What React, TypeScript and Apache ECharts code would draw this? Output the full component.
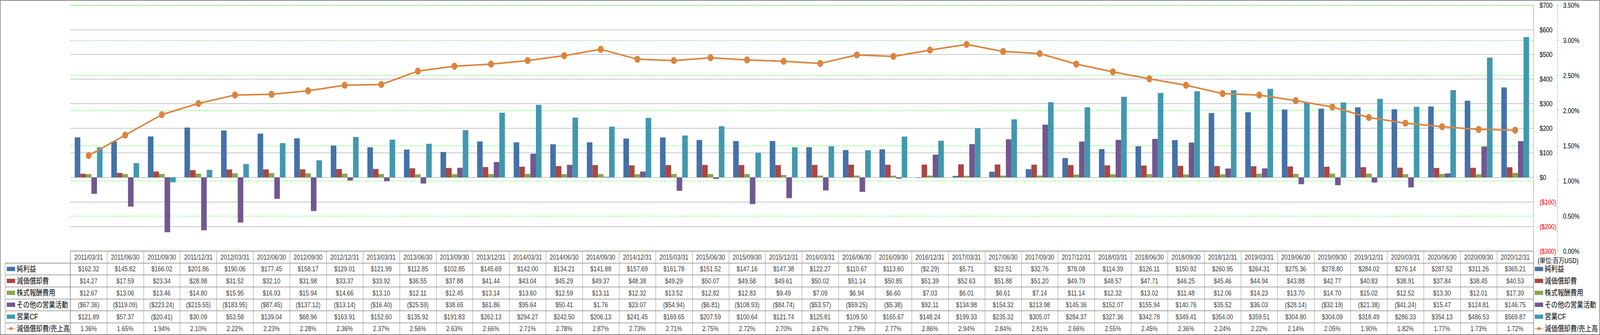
import React, { useEffect, useRef } from "react";
import * as echarts from "echarts";

const dates = [
  "2011/03/31", "2011/06/30", "2011/09/30", "2011/12/31", "2012/03/31", "2012/06/30", "2012/09/30", "2012/12/31",
  "2013/03/31", "2013/06/30", "2013/09/30", "2013/12/31", "2014/03/31", "2014/06/30", "2014/09/30", "2014/12/31",
  "2015/03/31", "2015/06/30", "2015/09/30", "2015/12/31", "2016/03/31", "2016/06/30", "2016/09/30", "2016/12/31",
  "2017/03/31", "2017/06/30", "2017/09/30", "2017/12/31", "2018/03/31", "2018/06/30", "2018/09/30", "2018/12/31",
  "2019/03/31", "2019/06/30", "2019/09/30", "2019/12/31", "2020/03/31", "2020/06/30", "2020/09/30", "2020/12/31",
];

const netIncome = [
  162.32, 145.82, 166.02, 201.86, 190.06, 177.45, 158.17, 129.01, 121.99, 112.85, 102.85, 145.69, 142.0, 134.21,
  141.88, 157.69, 161.78, 151.52, 147.16, 147.38, 122.27, 110.67, 113.6, -2.29, 5.71, 22.51, 32.76, 78.08, 114.39,
  126.11, 150.92, 260.95, 264.31, 275.36, 278.8, 284.02, 276.14, 287.52, 311.26, 365.21,
];
const depreciation = [
  14.27, 17.59, 23.34, 28.98, 31.52, 32.1, 31.98, 33.37, 33.92, 36.55, 37.88, 41.44, 43.04, 45.29, 49.37, 48.38,
  49.29, 50.07, 49.58, 49.61, 50.02, 51.14, 50.85, 51.39, 52.63, 51.88, 51.2, 49.79, 48.57, 47.71, 46.25, 45.46,
  44.94, 43.88, 42.77, 40.83, 38.91, 37.84, 38.45, 40.53,
];
const stockComp = [
  12.67, 13.06, 13.46, 14.8, 15.95, 16.93, 15.94, 14.66, 13.1, 12.11, 12.45, 13.14, 13.6, 12.59, 13.11, 12.32,
  13.52, 12.82, 12.83, 9.49, 7.09, 6.94, 6.6, 7.03, 6.01, 6.61, 7.14, 11.14, 12.32, 13.02, 11.48, 12.06, 14.23,
  13.7, 14.7, 15.02, 12.52, 13.3, 12.01, 17.39,
];
const otherOps = [
  -67.36, -119.09, -223.24, -215.55, -183.95, -87.45, -137.12, -13.14, -16.4, -25.59, 38.65, 61.86, 95.64, 50.41,
  1.76, 23.07, -54.94, -6.81, -108.93, -84.74, -53.57, -59.25, -5.38, 92.11, 134.98, 154.32, 213.98, 145.36, 152.07,
  155.94, 140.76, 35.52, 36.03, -28.14, -32.19, -21.38, -41.24, 15.47, 124.81, 146.75,
];
const operatingCF = [
  121.89, 57.37, -20.41, 30.09, 53.58, 139.04, 68.96, 163.91, 152.6, 135.92, 191.83, 262.13, 294.27, 242.5, 206.13,
  241.45, 169.65, 207.59, 100.64, 121.74, 125.81, 109.5, 165.67, 148.24, 199.33, 235.32, 305.07, 284.37, 327.36,
  342.78, 349.41, 354.0, 359.51, 304.8, 304.09, 318.49, 286.33, 354.13, 486.53, 569.87,
];
const depRatio = [
  1.36, 1.65, 1.94, 2.1, 2.22, 2.23, 2.28, 2.36, 2.37, 2.56, 2.63, 2.66, 2.71, 2.78, 2.87, 2.73, 2.71, 2.75, 2.72,
  2.7, 2.67, 2.79, 2.77, 2.86, 2.94, 2.84, 2.81, 2.66, 2.55, 2.45, 2.36, 2.24, 2.22, 2.14, 2.05, 1.9, 1.82, 1.77,
  1.73, 1.72,
];

const barNames = ["純利益", "減価償却費", "株式報酬費用", "その他の営業活動", "営業CF"];
const lineName = "減価償却費/売上高";
const unitLabel = "(単位:百万USD)";

const FONT = "'Liberation Sans', 'Noto Sans CJK JP', sans-serif";
const barColors = ["#4572A7", "#AA4643", "#89A54E", "#71588F", "#4198AF"];
const lineColor = "#DB843D";
const gridGray = "#888888";
const green = "#00FF00";

const DW = 4981;
const DH = 858;

const money = (v: number) => (v < 0 ? `($${(-v).toFixed(2)})` : `$${v.toFixed(2)}`);
const pct = (v: number) => `${v.toFixed(2)}%`;

export default function App() {
  const ref = useRef<HTMLDivElement>(null);
  const kx = typeof window !== "undefined" ? Math.min(1, window.innerWidth / DW) : 1;
  const ky = typeof window !== "undefined" ? Math.min(1, window.innerHeight / DH) : 1;

  useEffect(() => {
    const el = ref.current!;
    const chart = echarts.init(el, null, { renderer: "svg", width: DW, height: DH });
    const barData = [netIncome, depreciation, stockComp, otherOps, operatingCF];

    const tableRows = ["hdr", ...barNames, lineName];
    const cells: any[] = [];
    dates.forEach((d, i) => {
      cells.push([i, 0, d]);
      barData.forEach((arr, r) => cells.push([i, r + 1, money(arr[i])]));
      cells.push([i, 6, pct(depRatio[i])]);
    });

    const legendData = [...barNames.map((n) => ({ name: n, icon: "rect" })), { name: lineName }];
    const rowH = 214 / 7;
    const lh = 20;
    const legendBase = {
      orient: "vertical",
      top: 643 + rowH + (rowH - lh) / 2,
      height: 300,
      padding: 0,
      itemWidth: 26,
      itemHeight: 11,
      itemGap: rowH - lh,
      selectedMode: false,
      textStyle: { fontSize: 20, lineHeight: lh, color: "#000", fontFamily: FONT },
      data: legendData,
    };

    const option: any = {
      animation: false,
      backgroundColor: "#fff",
      textStyle: { fontFamily: FONT },
      legend: [
        { ...legendBase, left: 20 },
        { ...legendBase, left: 4777 },
      ],
      graphic: [
        {
          type: "rect",
          shape: { x: 1, y: 1, width: DW - 2, height: DH - 2 },
          style: { fill: "none", stroke: gridGray, lineWidth: 2 },
          silent: true,
          z: 100,
        },
        {
          type: "text",
          x: 4787,
          y: 667,
          silent: true,
          style: {
            text: unitLabel,
            fontSize: 18,
            fontFamily: FONT,
            fill: "#000",
            align: "left",
            verticalAlign: "middle",
          },
        },
      ],
      grid: [
        { left: 219, top: 13, width: 4555, height: 630 },
        { left: 219, top: 643, width: 4555, height: 214, show: true, borderColor: gridGray, borderWidth: 1 },
        {
          left: 16,
          top: 643 + rowH,
          width: 203,
          height: 214 - rowH,
          show: true,
          borderColor: gridGray,
          borderWidth: 1,
        },
      ],
      xAxis: [
        {
          type: "category",
          gridIndex: 0,
          data: dates,
          axisLabel: { show: false },
          axisLine: { show: false },
          axisTick: { show: false },
        },
        {
          type: "category",
          gridIndex: 1,
          data: dates,
          axisLabel: { show: false },
          axisLine: { show: false },
          axisTick: { show: false, interval: 0 },
          splitLine: { show: true, interval: 0, lineStyle: { color: gridGray, width: 1 } },
        },
        { type: "value", gridIndex: 2, min: 0, max: 1, show: false },
      ],
      yAxis: [
        {
          type: "value",
          gridIndex: 0,
          position: "right",
          min: -300,
          max: 700,
          interval: 100,
          axisLine: { show: true, onZero: false, lineStyle: { color: gridGray, width: 1 } },
          axisTick: { show: false },
          splitLine: { show: true, lineStyle: { color: gridGray, width: 1 } },
          axisLabel: {
            margin: 19,
            fontSize: 18,
            color: "#000",
            fontFamily: FONT,
            showMinLabel: true,
            showMaxLabel: true,
            formatter: (v: number) => (v < 0 ? `{n|($${-v})}` : `$${v}`),
            rich: { n: { color: "#FF0000", fontSize: 18, fontFamily: FONT } },
          },
        },
        {
          type: "value",
          gridIndex: 0,
          position: "right",
          offset: 74,
          min: 0,
          max: 3.5,
          interval: 0.5,
          axisLine: { show: true, onZero: false, lineStyle: { color: green, width: 1, type: [5, 3] } },
          axisTick: { show: true, length: 4, lineStyle: { color: green, width: 1 } },
          splitLine: { show: true, lineStyle: { color: green, width: 1, type: [5, 3] } },
          axisLabel: {
            margin: 18,
            fontSize: 18,
            color: "#000",
            fontFamily: FONT,
            showMinLabel: true,
            showMaxLabel: true,
            formatter: (v: number) => pct(v),
          },
        },
        {
          type: "category",
          gridIndex: 1,
          data: tableRows,
          inverse: true,
          axisLabel: { show: false },
          axisLine: { show: false },
          axisTick: { show: false, interval: 0 },
          splitLine: { show: true, interval: 0, lineStyle: { color: gridGray, width: 1.5 } },
        },
        {
          type: "category",
          gridIndex: 2,
          data: tableRows.slice(1),
          inverse: true,
          axisLabel: { show: false },
          axisLine: { show: false },
          axisTick: { show: false, interval: 0 },
          splitLine: { show: true, interval: 0, lineStyle: { color: gridGray, width: 1.5 } },
        },
      ],
      series: [
        ...barNames.map((n, k) => ({
          name: n,
          type: "bar",
          xAxisIndex: 0,
          yAxisIndex: 0,
          data: barData[k],
          barGap: "0%",
          barCategoryGap: "24%",
          itemStyle: { color: barColors[k] },
        })),
        {
          name: lineName,
          type: "line",
          xAxisIndex: 0,
          yAxisIndex: 1,
          data: depRatio,
          symbol: "circle",
          symbolSize: 18,
          lineStyle: { color: lineColor, width: 4 },
          itemStyle: { color: lineColor },
          z: 5,
        },
        {
          name: "table",
          type: "scatter",
          xAxisIndex: 1,
          yAxisIndex: 2,
          data: cells,
          symbolSize: 1,
          itemStyle: { color: "rgba(0,0,0,0)" },
          silent: true,
          label: {
            show: true,
            position: "inside",
            fontSize: 18,
            color: "#000",
            fontFamily: FONT,
            formatter: (p: any) => p.data[2],
          },
        },
      ],
    };

    chart.setOption(option);
    return () => chart.dispose();
  }, []);

  return (
    <div
      style={{
        position: "fixed",
        left: 0,
        top: 0,
        width: "100vw",
        height: "100vh",
        overflow: "hidden",
        background: "#fff",
      }}
    >
      <div
        ref={ref}
        style={{ width: DW, height: DH, transform: `scale(${kx}, ${ky})`, transformOrigin: "0 0" }}
      />
    </div>
  );
}
